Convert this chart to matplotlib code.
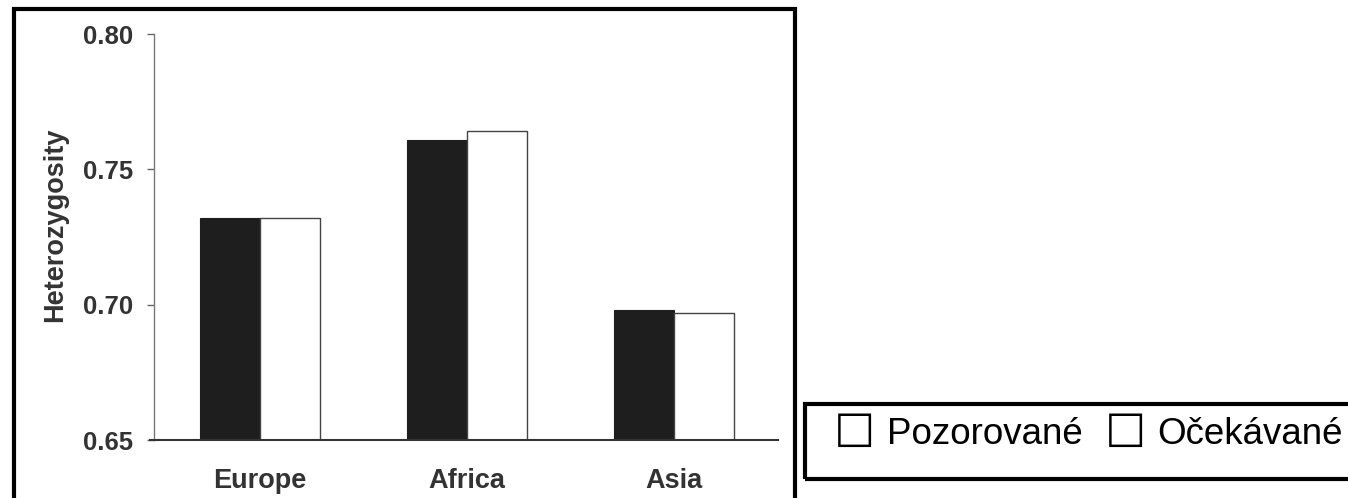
import matplotlib.pyplot as plt
import numpy as np
from matplotlib.patches import Rectangle

# data
regions = ["Europe", "Africa", "Asia"]
observed = [0.732, 0.761, 0.698]
expected = [0.732, 0.764, 0.697]
y_ticks = [0.65, 0.70, 0.75, 0.80]
legend_labels = ["Pozorované", "Očekávané"]

W, H = 1348, 498
fig = plt.figure(figsize=(W / 100, H / 100), dpi=100)

# axes in pixel terms -> figure fractions
ax = fig.add_axes([154 / W, 1 - 440 / H, (778 - 154) / W, (440 - 34) / H])

x = np.arange(len(regions))
width = 0.29
ax.bar(x - width / 2, observed, width, bottom=0, color="#1e1e1e", edgecolor="#1e1e1e", linewidth=0.8)
ax.bar(x + width / 2, expected, width, bottom=0, color="white", edgecolor="#444444", linewidth=1.0)

ax.set_ylim(0.65, 0.80)
ax.set_xlim(-0.512, 2.502)
ax.set_yticks(y_ticks)
ax.set_yticklabels([f"{v:.2f}" for v in y_ticks])
ax.set_xticks(x)
ax.set_xticklabels(regions)

for lab in ax.get_yticklabels():
    lab.set_fontfamily("Liberation Sans")
    lab.set_fontweight("bold")
    lab.set_fontsize(18.5)
    lab.set_color("#333333")
for lab in ax.get_xticklabels():
    lab.set_fontfamily("Liberation Sans")
    lab.set_fontweight("bold")
    lab.set_fontsize(19.5)
    lab.set_color("#333333")

ax.tick_params(axis="y", direction="out", length=5, width=1, color="#666666", pad=10)
ax.tick_params(axis="x", length=0, pad=20)
ax.set_ylabel("Heterozygosity", family="Liberation Sans", weight="bold", size=19.5, color="#333333")
ax.yaxis.set_label_coords(-0.138, 0.53)

for side in ["top", "right"]:
    ax.spines[side].set_visible(False)
ax.spines["left"].set_color("#777777")
ax.spines["left"].set_linewidth(1.0)
ax.spines["bottom"].set_color("#333333")
ax.spines["bottom"].set_linewidth(1.5)
ax.spines["bottom"].set_bounds(-0.53, 2.502)

# frame around the chart
fig.add_artist(Rectangle((13.5 / W, -0.05), (795 - 13.5) / W, 1.05 - 9 / H,
                         transform=fig.transFigure, fill=False, edgecolor="black",
                         linewidth=3, clip_on=False))

# legend box on the right
fig.add_artist(Rectangle((805 / W, 1 - 478.5 / H), (W + 20 - 805) / W, 75 / H,
                         transform=fig.transFigure, fill=False, edgecolor="black",
                         linewidth=3, clip_on=False))
ly = 1 - 434 / H
for bx, tx, label in [(834, 887, legend_labels[0]), (1105, 1157, legend_labels[1])]:
    fig.text(bx / W, ly, "☐", family="DejaVu Sans", fontsize=33, color="black",
             ha="left", va="center")
    fig.text(tx / W, ly, label, family="Liberation Sans", fontsize=26.5, color="black",
             ha="left", va="center")

fig.savefig("out.png", dpi=100)
